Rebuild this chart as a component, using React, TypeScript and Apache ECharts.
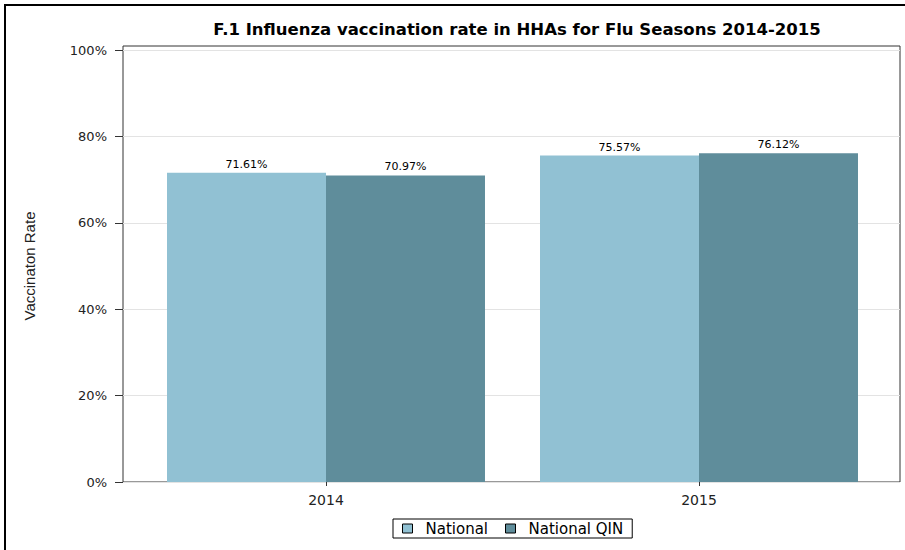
import React, { useEffect, useRef } from "react";
import * as echarts from "echarts";

const titleText = "F.1 Influenza vaccination rate in HHAs for Flu Seasons 2014-2015";
const categories = ["2014", "2015"];
const seriesNames = ["National", "National QIN"];
const nationalValues = [0.7161, 0.7557];
const qinValues = [0.7097, 0.7612];
const yTicks = { min: 0, max: 1, interval: 0.2 };
const yAxisName = "Vaccinaton Rate";

const colors = ["#91C1D3", "#5F8D9B"];

export default function App() {
  const ref = useRef<HTMLDivElement>(null);
  useEffect(() => {
    document.body.style.margin = "0";
    if (!ref.current) return;
    const chart = echarts.init(ref.current, null, { renderer: "svg" });
    const pct = (v: number) => (v * 100).toFixed(2) + "%";
    const labelCfg = {
      show: true,
      position: "top",
      distance: 3,
      fontFamily: "DejaVu Sans",
      fontSize: 11,
      color: "#000",
      formatter: (p: any) => pct(p.value),
    };
    chart.setOption({
      animation: false,
      backgroundColor: "#fff",
      title: {
        text: titleText,
        left: 512,
        textAlign: "center",
        top: 16,
        textStyle: { fontFamily: "DejaVu Sans", fontWeight: "bold", fontSize: 16.5, color: "#000" },
      },
      graphic: [
        {
          type: "rect",
          shape: { x: 5, y: 5, width: 1200, height: 1200 },
          style: { fill: "none", stroke: "#000", lineWidth: 2 },
          silent: true,
        },
      ],
      legend: {
        bottom: 12,
        left: 393,
        data: seriesNames,
        icon: "rect",
        itemWidth: 10,
        itemHeight: 9,
        itemGap: 17,
        padding: [2, 9, 2, 9],
        borderColor: "#000",
        borderWidth: 1,
        itemStyle: { borderColor: "#000", borderWidth: 1 },
        textStyle: { fontFamily: "DejaVu Sans", fontSize: 15, color: "#000", padding: [0, 0, 0, 8] },
      },
      grid: [
        { left: 123, right: 5, top: 46, bottom: 68, show: true, borderColor: "#333", borderWidth: 1, backgroundColor: "transparent" },
        { left: 123, right: 5, top: 50, bottom: 68 },
        { left: 139.5, right: 19.5, top: 50, bottom: 68 },
      ],
      xAxis: [
        { gridIndex: 0, type: "value", show: false },
        { gridIndex: 1, type: "value", show: false },
        {
          gridIndex: 2,
          type: "category",
          data: categories,
          axisLine: { show: false },
          axisTick: { show: true, alignWithLabel: true, length: 4, lineStyle: { color: "#333" } },
          axisLabel: { margin: 11, fontFamily: "DejaVu Sans", fontSize: 14, color: "#222" },
        },
      ],
      yAxis: [
        { gridIndex: 0, type: "value", show: false },
        {
          gridIndex: 1,
          type: "value",
          min: yTicks.min,
          max: yTicks.max,
          interval: yTicks.interval,
          name: yAxisName,
          nameLocation: "middle",
          nameGap: 86,
          nameTextStyle: { fontFamily: "Liberation Sans Narrow, Liberation Sans", fontSize: 15, color: "#222" },
          axisLine: { show: false },
          axisTick: { show: true, length: 8, lineStyle: { color: "#333" } },
          axisLabel: {
            margin: 16,
            fontFamily: "DejaVu Sans",
            fontSize: 13,
            color: "#222",
            formatter: (v: number) => Math.round(v * 100) + "%",
          },
          splitLine: { show: true, lineStyle: { color: "#e3e3e3" } },
        },
        { gridIndex: 2, type: "value", min: yTicks.min, max: yTicks.max, show: false },
      ],
      series: [
        {
          name: seriesNames[0],
          type: "bar",
          xAxisIndex: 2,
          yAxisIndex: 2,
          data: nationalValues,
          barGap: "0%",
          barCategoryGap: "14.75%",
          itemStyle: { color: colors[0] },
          label: labelCfg,
        },
        {
          name: seriesNames[1],
          type: "bar",
          xAxisIndex: 2,
          yAxisIndex: 2,
          data: qinValues,
          barGap: "0%",
          barCategoryGap: "14.75%",
          itemStyle: { color: colors[1] },
          label: labelCfg,
        },
      ],
    });
    return () => chart.dispose();
  }, []);
  return <div ref={ref} style={{ width: 905, height: 550 }} />;
}
